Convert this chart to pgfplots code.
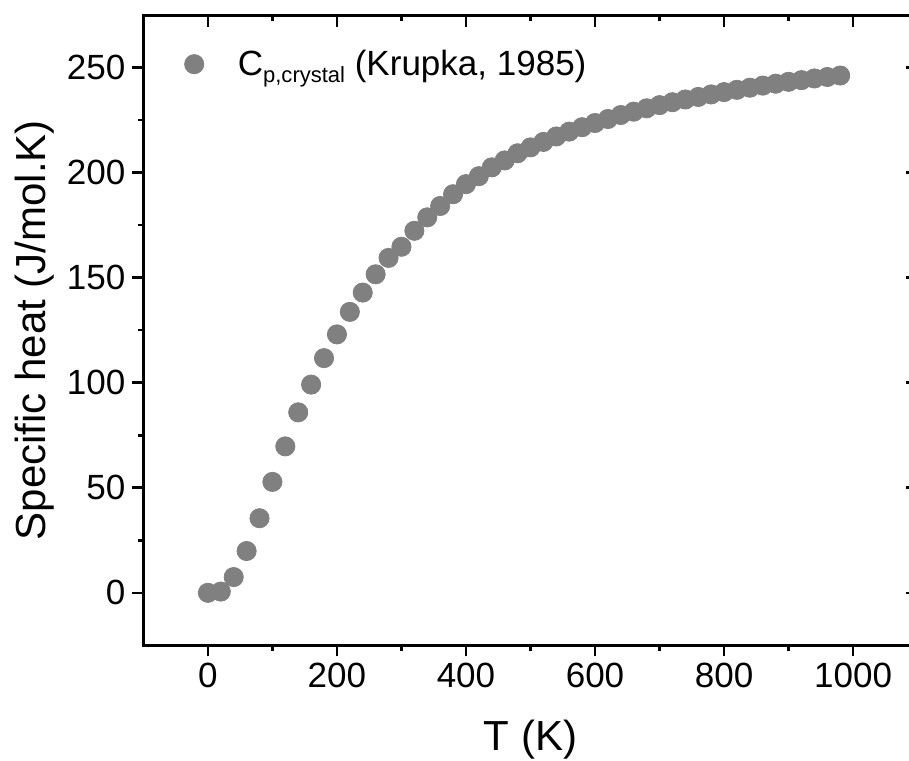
\documentclass[border=0pt]{standalone}
\usepackage{fontspec}
\setmainfont{Liberation Sans}
\usepackage{pgfplots}
\pgfplotsset{compat=1.18}
\usetikzlibrary{calc}
\definecolor{markgray}{RGB}{128,128,128}
\pgfplotstableread{
T Cp
0 0
20 0.6
40 7.5
60 19.9
80 35.5
100 52.8
120 69.7
140 85.9
160 99.1
180 111.7
200 123
220 133.7
240 142.9
260 151.6
280 159.4
300 164.7
320 172.3
340 178.7
360 184.1
380 189.7
400 194.5
420 198.3
440 202.5
460 205.8
480 209.2
500 212
520 214.6
540 217.2
560 219.5
580 221.6
600 223.6
620 225.5
640 227.4
660 229
680 230.6
700 232.1
720 233.5
740 234.8
760 236
780 237.2
800 238.3
820 239.4
840 240.4
860 241.4
880 242.3
900 243.2
920 244
940 244.8
960 245.5
980 246.2
}\cpdata
\begin{document}
\begin{tikzpicture}
\pgfplotsset{
 common/.style={
  width=386.9pt, height=315pt, scale only axis,
  xmin=-100, xmax=1100, ymin=-25, ymax=275,
  xtick={0,200,...,1000}, ytick={0,50,...,250},
  minor x tick num=1, minor y tick num=1,
  axis line style={line width=1.5pt},
  major tick style={line width=1.3pt, black},
  minor tick style={line width=1.3pt, black},
  /pgf/number format/assume math mode=true,
  /pgf/number format/1000 sep={},
 }}
\begin{axis}[common,
  tick align=outside, xtick pos=bottom, ytick pos=left,
  major tick length=5.5pt, minor tick length=2.8pt,
  tick label style={font=\fontsize{17.5}{20}\selectfont},
  xlabel={T (K)}, ylabel={Specific heat (J/mol.K)},
  xlabel style={font=\fontsize{21}{24}\selectfont, at={(axis description cs:0.5,-0.15)}, anchor=center},
  ylabel style={font=\fontsize{21}{24}\selectfont, at={(axis description cs:-0.14,0.5)}, anchor=center},
  legend style={at={(axis description cs:0.045,0.922)}, anchor=west, draw=none, fill=none,
    font=\fontsize{17.5}{20}\selectfont, column sep=15pt},
  legend cell align=left,
]
\addplot[only marks, mark=*, mark size=4.8pt, draw=markgray, fill=markgray, mark options={draw=markgray, fill=markgray}] table[x=T, y=Cp] {\cpdata};
\addlegendentry{C\raisebox{-3.7pt}{\fontsize{11}{12}\selectfont p,crystal} (Krupka, 1985)}
\end{axis}
\begin{axis}[common,
  tick align=inside, xtick pos=top, ytick pos=right,
  major tick length=6pt, minor tick length=3pt,
  xticklabels={}, yticklabels={},
]
\end{axis}
\pgfresetboundingbox
\path ($(current axis.south west)+(-71.65pt,-57.5pt)$) rectangle ($(current axis.north east)+(-4.3pt,7.5pt)$);
\end{tikzpicture}
\end{document}
